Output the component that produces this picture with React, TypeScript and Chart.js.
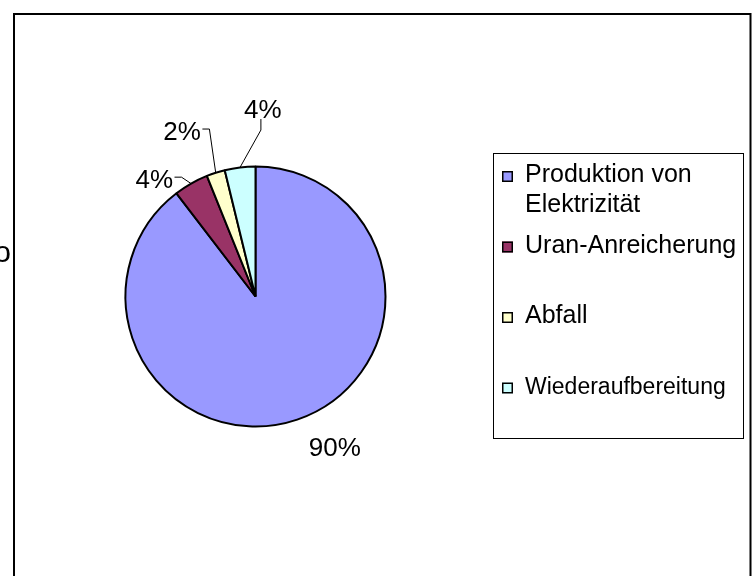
import React, { useEffect, useRef } from "react";
import { Chart, registerables } from "chart.js";

Chart.register(...registerables);

// ---- data ----
const categories = [
  "Produktion von Elektrizität",
  "Uran-Anreicherung",
  "Abfall",
  "Wiederaufbereitung",
];
const shares = [89.6, 4.3, 2.3, 3.8];
const sliceColors = ["#9999FF", "#993366", "#FFFFCC", "#CCFFFF"];
const percentLabels = shares.map((v) => Math.round(v) + "%");
const strayText = "o";

const FONT = '"Liberation Sans", Arial, Helvetica, sans-serif';
const W = 755;
const H = 576;

// label placement relative to each slice (angle offset in degrees, distance beyond the rim)
const labelPlacement = [
  { dAng: -9.1, dist: 40, leader: "" },
  { dAng: -11.1, dist: 25, leader: "h" },
  { dAng: -6.1, dist: 51, leader: "h" },
  { dAng: 9.1, dist: 57.6, leader: "v" },
];
const legendFontSizes = [25, 25, 25, 23];

const decorPlugin = {
  id: "decor",
  beforeDraw(chart: any) {
    const ctx = chart.ctx as CanvasRenderingContext2D;
    ctx.save();
    ctx.fillStyle = "#ffffff";
    ctx.fillRect(0, 0, W, H);
    ctx.strokeStyle = "#000";
    ctx.lineWidth = 2;
    ctx.strokeRect(14, 14, 736.5, 700);
    ctx.fillStyle = "#000";
    ctx.font = `30px ${FONT}`;
    ctx.textAlign = "right";
    ctx.textBaseline = "alphabetic";
    ctx.fillText(strayText, 11, 262);
    ctx.restore();
  },
  afterDraw(chart: any) {
    const ctx = chart.ctx as CanvasRenderingContext2D;
    const meta = chart.getDatasetMeta(0);
    ctx.save();
    const size = 26;
    ctx.font = `${size}px ${FONT}`;
    ctx.fillStyle = "#000";
    ctx.strokeStyle = "#000";
    ctx.lineWidth = 1;
    ctx.textAlign = "center";
    ctx.textBaseline = "alphabetic";
    meta.data.forEach((arc: any, i: number) => {
      const { x, y, startAngle, endAngle, outerRadius } = arc.getProps(
        ["x", "y", "startAngle", "endAngle", "outerRadius"],
        true
      );
      const mid = (startAngle + endAngle) / 2;
      const p = labelPlacement[i];
      const a = mid + (p.dAng * Math.PI) / 180;
      const r = outerRadius + p.dist;
      const lx = x + Math.cos(a) * r;
      const ly = y + Math.sin(a) * r;
      const txt = chart.data.datasets[0].percentLabels[i];
      ctx.fillText(txt, lx, ly + size * 0.358);
      const ex = x + Math.cos(mid) * outerRadius;
      const ey = y + Math.sin(mid) * outerRadius;
      const hw = ctx.measureText(txt).width / 2;
      if (p.leader === "h") {
        ctx.beginPath();
        ctx.moveTo(lx + hw + 1.5, ly - 2);
        ctx.lineTo(lx + hw + 8.5, ly - 2);
        ctx.lineTo(ex, ey);
        ctx.stroke();
      } else if (p.leader === "v") {
        ctx.beginPath();
        ctx.moveTo(lx - 2, ly + 10);
        ctx.lineTo(lx - 2, ly + 21);
        ctx.lineTo(ex, ey);
        ctx.stroke();
      }
    });

    // legend
    const bx = 493.5,
      by = 153.5,
      bw = 250,
      bh = 285;
    ctx.lineWidth = 1;
    ctx.strokeStyle = "#000";
    ctx.strokeRect(bx, by, bw, bh);
    ctx.textAlign = "left";
    const labels: string[] = chart.data.labels;
    const colors: string[] = chart.data.datasets[0].backgroundColor;
    labels.forEach((lab, i) => {
      const fs = legendFontSizes[i];
      ctx.font = `${fs}px ${FONT}`;
      const base = 182 + i * 70.5;
      const words = lab.split(" ");
      const lines: string[] = [];
      let cur = "";
      words.forEach((w) => {
        const t = cur ? cur + " " + w : w;
        if (ctx.measureText(t).width > 214 && cur) {
          lines.push(cur);
          cur = w;
        } else cur = t;
      });
      if (cur) lines.push(cur);
      lines.forEach((ln, k) => ctx.fillText(ln, 525, base + k * 30));
      ctx.fillStyle = colors[i];
      ctx.fillRect(502, base - 11, 11, 11);
      ctx.lineWidth = 1.5;
      ctx.strokeRect(502.75, base - 10.25, 9.5, 9.5);
      ctx.fillStyle = "#000";
    });
    ctx.restore();
  },
};

export default function App() {
  const ref = useRef<HTMLCanvasElement | null>(null);
  useEffect(() => {
    if (!ref.current) return;
    const chart = new Chart(ref.current, {
      type: "pie",
      data: {
        labels: categories,
        datasets: [
          {
            data: shares,
            backgroundColor: sliceColors,
            borderColor: "#000",
            borderWidth: 2,
            hoverBorderWidth: 2,
            percentLabels,
          } as any,
        ],
      },
      options: {
        animation: false,
        responsive: false,
        events: [],
        layout: {
          padding: { left: 124.5, right: 368.5, top: 165.5, bottom: 148.5 },
        },
        plugins: {
          legend: { display: false },
          tooltip: { enabled: false },
          title: { display: false },
        },
      },
      plugins: [decorPlugin],
    });
    return () => chart.destroy();
  }, []);
  return (
    <div style={{ position: "absolute", left: 0, top: 0, width: W, height: H, background: "#fff" }}>
      <canvas ref={ref} width={W} height={H} style={{ display: "block", width: W, height: H }} />
    </div>
  );
}
